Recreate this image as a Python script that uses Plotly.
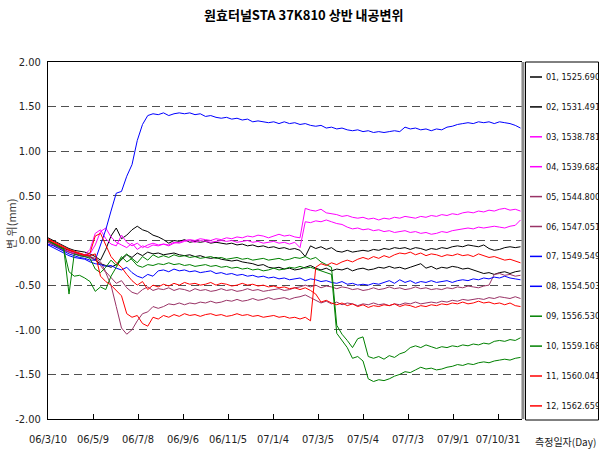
import plotly.graph_objects as go
import pandas as pd

# ---------------- data ----------------
START = "2006-03-10"
X_END = "2007-12-02"
DAYS = [0, 7, 14, 21, 28, 35, 42, 49, 56, 63,
        70, 77, 84, 91, 98, 105, 112, 119, 126, 133,
        140, 147, 154, 161, 168, 175, 182, 189, 196, 203,
        210, 217, 224, 231, 238, 245, 252, 259, 266, 273,
        280, 287, 294, 301, 308, 315, 322, 329, 336, 343,
        350, 357, 364, 371, 378, 385, 392, 399, 406, 413,
        420, 427, 434, 441, 448, 455, 462, 469, 476, 483,
        490, 497, 504, 511, 518, 525, 532, 539, 546, 553,
        560, 567, 574, 581, 588, 595, 602, 609, 616, 623,
        630]

S01 = [0.03, 0.00, -0.03, -0.06, -0.09, -0.11, -0.12, -0.13, -0.15, -0.18,
       -0.22, -0.10, 0.05, 0.14, 0.02, 0.06, 0.12, 0.16, 0.12, 0.10,
       0.06, 0.04, 0.01, -0.03, 0.00, -0.01, 0.01, -0.02, -0.01, -0.02,
       -0.01, -0.03, -0.02, -0.03, -0.04, -0.03, -0.05, -0.04, -0.06, -0.05,
       -0.07, -0.06, -0.08, -0.07, -0.09, -0.08, -0.10, -0.09, -0.11, -0.18,
       -0.06, -0.09, -0.07, -0.10, -0.08, -0.12, -0.13, -0.11, -0.13, -0.12,
       -0.11, -0.12, -0.10, -0.11, -0.09, -0.10, -0.08, -0.09, -0.08, -0.10,
       -0.08, -0.09, -0.11, -0.09, -0.10, -0.08, -0.09, -0.07, -0.06, -0.07,
       -0.05, -0.06, -0.07, -0.05, -0.09, -0.11, -0.10, -0.08, -0.07, -0.08,
       -0.07]
S02 = [0.00, -0.03, -0.06, -0.09, -0.11, -0.13, -0.15, -0.16, -0.18, -0.22,
       -0.26, -0.28, -0.30, -0.27, -0.22, -0.16, -0.19, -0.14, -0.17, -0.13,
       -0.15, -0.14, -0.16, -0.15, -0.14, -0.16, -0.17, -0.16, -0.18, -0.17,
       -0.19, -0.20, -0.19, -0.21, -0.22, -0.23, -0.22, -0.24, -0.25, -0.26,
       -0.28, -0.27, -0.30, -0.31, -0.30, -0.32, -0.31, -0.33, -0.32, -0.30,
       -0.28, -0.31, -0.33, -0.31, -0.34, -0.32, -0.33, -0.31, -0.34, -0.32,
       -0.31, -0.33, -0.32, -0.30, -0.31, -0.29, -0.31, -0.30, -0.32, -0.30,
       -0.28, -0.26, -0.31, -0.29, -0.32, -0.30, -0.31, -0.29, -0.30, -0.32,
       -0.31, -0.33, -0.35, -0.37, -0.36, -0.38, -0.36, -0.35, -0.37, -0.35,
       -0.34]
S03 = [-0.01, -0.04, -0.07, -0.10, -0.12, -0.14, -0.15, -0.16, -0.10, 0.08,
       0.12, 0.02, -0.04, -0.06, 0.06, -0.02, -0.06, -0.03, -0.08, -0.05,
       -0.03, -0.05, -0.04, -0.06, -0.03, -0.02, 0.00, 0.01, 0.00, 0.02,
       0.01, 0.00, 0.02, 0.01, 0.03, 0.02, 0.04, 0.03, 0.05, 0.04,
       0.06, 0.05, 0.03, 0.05, 0.07, 0.05, 0.06, 0.04, 0.03, 0.36,
       0.34, 0.33, 0.35, 0.31, 0.30, 0.29, 0.27, 0.28, 0.26, 0.25,
       0.26, 0.24, 0.25, 0.23, 0.25, 0.24, 0.26, 0.25, 0.27, 0.26,
       0.25, 0.27, 0.26, 0.28, 0.27, 0.29, 0.28, 0.30, 0.29, 0.31,
       0.32, 0.31, 0.33, 0.32, 0.34, 0.33, 0.35, 0.36, 0.34, 0.35,
       0.33]
S04 = [-0.02, -0.05, -0.08, -0.11, -0.13, -0.15, -0.16, -0.17, -0.15, -0.05,
       0.10, 0.14, 0.04, -0.02, -0.05, -0.08, -0.03, -0.10, -0.06, -0.08,
       -0.05, -0.06, -0.04, -0.05, -0.02, -0.03, -0.01, 0.00, -0.02, 0.00,
       -0.01, -0.02, -0.01, 0.00, -0.01, 0.00, -0.02, -0.01, 0.00, -0.02,
       -0.01, -0.03, -0.02, -0.01, -0.03, -0.02, -0.04, -0.02, -0.08, 0.21,
       0.20, 0.22, 0.21, 0.23, 0.21, 0.19, 0.18, 0.15, 0.13, 0.14,
       0.12, 0.13, 0.11, 0.12, 0.10, 0.11, 0.09, 0.10, 0.11, 0.09,
       0.10, 0.08, 0.09, 0.07, 0.08, 0.10, 0.09, 0.11, 0.12, 0.13,
       0.14, 0.13, 0.15, 0.14, 0.15, 0.16, 0.15, 0.14, 0.16, 0.17,
       0.23]
S05 = [-0.01, -0.04, -0.07, -0.10, -0.13, -0.15, -0.16, -0.17, -0.18, -0.20,
       -0.24, -0.35, -0.42, -0.48, -0.45, -0.53, -0.58, -0.60, -0.55, -0.52,
       -0.56, -0.54, -0.55, -0.53, -0.56, -0.54, -0.55, -0.57, -0.54, -0.56,
       -0.55, -0.57, -0.56, -0.54, -0.56, -0.55, -0.57, -0.56, -0.54, -0.56,
       -0.55, -0.57, -0.56, -0.55, -0.54, -0.56, -0.55, -0.53, -0.52, -0.50,
       -0.52, -0.50, -0.53, -0.51, -0.52, -0.54, -0.52, -0.53, -0.55, -0.54,
       -0.56, -0.55, -0.53, -0.55, -0.54, -0.52, -0.54, -0.53, -0.55, -0.54,
       -0.52, -0.54, -0.53, -0.55, -0.54, -0.55, -0.53, -0.54, -0.52, -0.53,
       -0.51, -0.52, -0.53, -0.51, -0.50, -0.38, -0.37, -0.39, -0.38, -0.40,
       -0.39]
S06 = [-0.02, -0.05, -0.08, -0.11, -0.13, -0.15, -0.17, -0.18, -0.19, -0.22,
       -0.28, -0.36, -0.50, -0.74, -0.98, -1.05, -1.00, -0.90, -0.82, -0.80,
       -0.74, -0.76, -0.74, -0.71, -0.72, -0.70, -0.72, -0.70, -0.71, -0.69,
       -0.70, -0.68, -0.70, -0.69, -0.67, -0.68, -0.66, -0.68, -0.67, -0.65,
       -0.67, -0.66, -0.64, -0.66, -0.65, -0.64, -0.66, -0.64, -0.63, -0.61,
       -0.64, -0.67, -0.70, -0.68, -0.71, -0.69, -0.72, -0.70, -0.71, -0.73,
       -0.71, -0.72, -0.70, -0.72, -0.71, -0.73, -0.71, -0.72, -0.70, -0.71,
       -0.69, -0.71, -0.70, -0.69, -0.70, -0.68, -0.69, -0.67, -0.68, -0.66,
       -0.67, -0.66, -0.65, -0.66, -0.64, -0.65, -0.63, -0.64, -0.65, -0.63,
       -0.65]
S07 = [-0.04, -0.06, -0.09, -0.12, -0.15, -0.17, -0.19, -0.20, -0.22, -0.22,
       -0.06, 0.12, 0.33, 0.53, 0.55, 0.72, 0.85, 1.12, 1.30, 1.40,
       1.42, 1.41, 1.43, 1.40, 1.42, 1.43, 1.42, 1.43, 1.41, 1.42,
       1.39, 1.40, 1.38, 1.37, 1.38, 1.36, 1.37, 1.35, 1.36, 1.33,
       1.34, 1.33, 1.32, 1.33, 1.31, 1.33, 1.31, 1.32, 1.30, 1.31,
       1.29, 1.28, 1.29, 1.26, 1.27, 1.25, 1.26, 1.24, 1.23, 1.24,
       1.22, 1.23, 1.21, 1.22, 1.21, 1.22, 1.23, 1.22, 1.27, 1.25,
       1.26, 1.24, 1.25, 1.23, 1.25, 1.24, 1.27, 1.28, 1.30, 1.31,
       1.32, 1.31, 1.33, 1.32, 1.33, 1.31, 1.33, 1.32, 1.31, 1.29,
       1.26]
S08 = [-0.05, -0.08, -0.11, -0.14, -0.17, -0.19, -0.20, -0.21, -0.24, -0.26,
       -0.27, -0.29, -0.28, -0.31, -0.33, -0.30, -0.36, -0.40, -0.42, -0.38,
       -0.40, -0.34, -0.33, -0.35, -0.32, -0.34, -0.33, -0.35, -0.34, -0.36,
       -0.35, -0.34, -0.37, -0.36, -0.38, -0.37, -0.39, -0.38, -0.40, -0.39,
       -0.41, -0.40, -0.42, -0.41, -0.43, -0.42, -0.44, -0.43, -0.42, -0.45,
       -0.43, -0.44, -0.46, -0.45, -0.47, -0.48, -0.46, -0.49, -0.48, -0.50,
       -0.49, -0.50, -0.48, -0.49, -0.47, -0.45, -0.48, -0.44, -0.47, -0.45,
       -0.48, -0.46, -0.47, -0.45, -0.47, -0.46, -0.45, -0.47, -0.45, -0.44,
       -0.45, -0.43, -0.44, -0.42, -0.43, -0.41, -0.42, -0.40, -0.42, -0.43,
       -0.44]
S09 = [0.00, -0.04, -0.07, -0.10, -0.35, -0.40, -0.39, -0.42, -0.46, -0.57,
       -0.52, -0.55, -0.40, -0.30, -0.20, -0.15, -0.22, -0.28, -0.30, -0.27,
       -0.28, -0.26, -0.27, -0.25, -0.27, -0.26, -0.28, -0.27, -0.29, -0.28,
       -0.27, -0.29, -0.28, -0.30, -0.29, -0.31, -0.30, -0.32, -0.31, -0.33,
       -0.32, -0.34, -0.33, -0.31, -0.33, -0.32, -0.30, -0.31, -0.29, -0.31,
       -0.30, -0.32, -0.34, -0.36, -0.38, -1.04, -1.12, -1.20, -1.32, -1.30,
       -1.35, -1.55, -1.58, -1.56, -1.57, -1.55, -1.52, -1.50, -1.47, -1.48,
       -1.45, -1.42, -1.44, -1.43, -1.45, -1.44, -1.42, -1.41, -1.39, -1.40,
       -1.38, -1.39, -1.37, -1.36, -1.37, -1.35, -1.34, -1.33, -1.34, -1.32,
       -1.31]
S10 = [0.00, -0.03, -0.06, -0.09, -0.60, -0.15, -0.17, -0.18, -0.20, -0.32,
       -0.36, -0.30, -0.22, -0.28, -0.18, -0.24, -0.20, -0.25, -0.18, -0.22,
       -0.16, -0.19, -0.17, -0.19, -0.16, -0.18, -0.17, -0.19, -0.18, -0.20,
       -0.19, -0.18, -0.20, -0.19, -0.21, -0.20, -0.19, -0.21, -0.20, -0.22,
       -0.21, -0.20, -0.22, -0.21, -0.20, -0.22, -0.21, -0.19, -0.20, -0.18,
       -0.21, -0.19, -0.24, -0.27, -0.30, -0.95, -1.05, -1.12, -1.20, -1.10,
       -1.08, -1.30, -1.32, -1.30, -1.33, -1.29, -1.31, -1.27, -1.25, -1.20,
       -1.18, -1.20, -1.17, -1.19, -1.21, -1.19, -1.20, -1.18, -1.19, -1.17,
       -1.18, -1.16, -1.17, -1.15, -1.16, -1.13, -1.12, -1.13, -1.11, -1.12,
       -1.09]
S11 = [0.01, -0.02, -0.05, -0.08, -0.11, -0.13, -0.15, -0.17, -0.14, 0.05,
       0.08, -0.05, -0.18, -0.25, -0.30, -0.38, -0.45, -0.50, -0.46, -0.55,
       -0.50, -0.52, -0.49, -0.51, -0.48, -0.50, -0.47, -0.49, -0.48, -0.50,
       -0.49, -0.47, -0.50, -0.48, -0.49, -0.51, -0.50, -0.48, -0.50, -0.49,
       -0.51, -0.50, -0.52, -0.51, -0.53, -0.52, -0.54, -0.53, -0.55, -0.53,
       -0.56, -0.60, -0.69, -0.67, -0.70, -0.72, -0.70, -0.73, -0.71, -0.74,
       -0.72, -0.75, -0.73, -0.74, -0.72, -0.73, -0.71, -0.74, -0.72, -0.73,
       -0.75, -0.73, -0.74, -0.72, -0.73, -0.71, -0.72, -0.70, -0.71, -0.69,
       -0.71, -0.70, -0.68, -0.70, -0.69, -0.71, -0.70, -0.72, -0.70, -0.73,
       -0.74]
S12 = [0.02, -0.01, -0.04, -0.07, -0.10, -0.12, -0.14, -0.16, -0.17, -0.15,
       -0.40, -0.46, -0.50, -0.56, -0.62, -0.82, -0.86, -0.84, -0.93, -0.96,
       -0.86, -0.88, -0.84, -0.86, -0.83, -0.85, -0.82, -0.84, -0.83, -0.85,
       -0.83, -0.82, -0.84, -0.83, -0.85, -0.84, -0.82, -0.84, -0.83, -0.85,
       -0.84, -0.86, -0.85, -0.84, -0.86, -0.85, -0.87, -0.86, -0.88, -0.86,
       -0.90, -0.30, -0.26, -0.28, -0.25, -0.27, -0.24, -0.22, -0.24, -0.21,
       -0.19, -0.21, -0.18, -0.20, -0.17, -0.19, -0.16, -0.14, -0.15, -0.13,
       -0.16, -0.14, -0.17, -0.15, -0.16, -0.18, -0.16, -0.17, -0.15, -0.17,
       -0.16, -0.18, -0.15, -0.17, -0.19, -0.18, -0.20, -0.22, -0.21, -0.23,
       -0.25]

SERIES = [S01, S02, S03, S04, S05, S06, S07, S08, S09, S10, S11, S12]
NAMES = ["01, 1525.690", "02, 1531.491", "03, 1538.781", "04, 1539.682",
         "05, 1544.800", "06, 1547.051", "07, 1549.549", "08, 1554.503",
         "09, 1556.530", "10, 1559.168", "11, 1560.041", "12, 1562.659"]
COLORS = ["#000000", "#000000", "#FF00FF", "#FF00FF", "#993366", "#993366",
          "#0000FF", "#0000FF", "#008000", "#008000", "#FF0000", "#FF0000"]

Y_TICKS = [2.0, 1.5, 1.0, 0.5, 0.0, -0.5, -1.0, -1.5, -2.0]
Y_LABELS = ["2.00", "1.50", "1.00", "0.50", "0.00", "-0.50", "-1.00", "-1.50", "-2.00"]
X_TICKS = ["2006-03-10", "2006-05-09", "2006-07-08", "2006-09-06", "2006-11-05",
           "2007-01-04", "2007-03-05", "2007-05-04", "2007-07-03", "2007-09-01",
           "2007-10-31"]
X_LABELS = ["06/3/10", "06/5/9", "06/7/8", "06/9/6", "06/11/5", "07/1/4",
            "07/3/5", "07/5/4", "07/7/3", "07/9/1", "07/10/31"]

TITLE = "원효터널STA 37K810 상반 내공변위"
Y_TITLE = "변 위(mm)"
X_TITLE = "측정일자(Day)"

for s in SERIES:
    assert len(s) == len(DAYS), len(s)

# ---------------- layout geometry ----------------
W, H = 599, 454
L, R, T, B = 48, 77, 62, 35
PW, PH = W - L - R, H - T - B

def px(x):
    return (x - L) / PW

def py(y):
    return (H - B - y) / PH

NUM_FONT = "DejaVu Sans Condensed, Liberation Sans Narrow, Roboto Condensed, Liberation Sans, sans-serif"
KR_FONT = "Noto Sans CJK KR, sans-serif"

dates = [pd.Timestamp(START) + pd.Timedelta(days=d) for d in DAYS]

fig = go.Figure()
for s, n, c in zip(SERIES, NAMES, COLORS):
    fig.add_trace(go.Scatter(x=dates, y=s, mode="lines", name=n,
                             line=dict(color=c, width=1), showlegend=False))

shapes = []
annotations = []

# right plot border (gray)
shapes.append(dict(type="line", xref="paper", yref="paper", x0=1.002, x1=1.002,
                   y0=0, y1=1, line=dict(color="#8c8c8c", width=3)))
# legend box
shapes.append(dict(type="rect", xref="paper", yref="paper",
                   x0=px(525.5), x1=px(598.5), y0=py(420), y1=py(62),
                   line=dict(color="#000000", width=1), fillcolor="white"))
for k, (n, c) in enumerate(zip(NAMES, COLORS)):
    yy = 77 + 29.9 * k
    shapes.append(dict(type="line", xref="paper", yref="paper",
                       x0=px(530), x1=px(542), y0=py(yy), y1=py(yy),
                       line=dict(color=c, width=1.5)))
    annotations.append(dict(text=n, xref="paper", yref="paper", x=px(543.5),
                            y=py(yy), xanchor="left", yanchor="middle",
                            showarrow=False,
                            font=dict(family=NUM_FONT, size=9, color="#111")))

annotations.append(dict(text=TITLE, xref="paper", yref="paper", x=px(303), y=py(14),
                        xanchor="center", yanchor="middle", showarrow=False,
                        font=dict(family=KR_FONT, size=13, color="#000", weight="bold")))
annotations.append(dict(text=Y_TITLE, xref="paper", yref="paper", x=px(11), y=py(224),
                        xanchor="center", yanchor="middle", showarrow=False,
                        textangle=-90,
                        font=dict(family=KR_FONT, size=11, color="#444")))
annotations.append(dict(text=X_TITLE, xref="paper", yref="paper", x=px(598), y=py(441),
                        xanchor="right", yanchor="middle", showarrow=False,
                        font=dict(family=KR_FONT, size=10, color="#222")))

fig.update_layout(
    width=W, height=H,
    margin=dict(l=L, r=R, t=T, b=B, pad=0, autoexpand=False),
    paper_bgcolor="white", plot_bgcolor="white",
    showlegend=False,
    shapes=shapes, annotations=annotations,
    xaxis=dict(type="date", range=[START, X_END], automargin=False,
               tickvals=X_TICKS, ticktext=X_LABELS,
               showgrid=False, zeroline=False,
               showline=True, linecolor="#000", linewidth=1, mirror=True,
               ticks="inside", ticklen=5, tickcolor="#000",
               ticklabelstandoff=10,
               tickfont=dict(family=NUM_FONT, size=11, color="#222")),
    yaxis=dict(range=[-2, 2], automargin=False, tickvals=Y_TICKS, ticktext=Y_LABELS,
               showgrid=True, gridcolor="#505050", gridwidth=1, griddash="8px,5px",
               zeroline=False, showline=True, linecolor="#000", linewidth=1,
               ticks="", ticklabelstandoff=4,
               tickfont=dict(family=NUM_FONT, size=11, color="#222")),
)

fig.write_html("out.html", config={"displayModeBar": False},
               post_script="document.body.style.margin='0px';document.body.style.overflow='hidden';")
